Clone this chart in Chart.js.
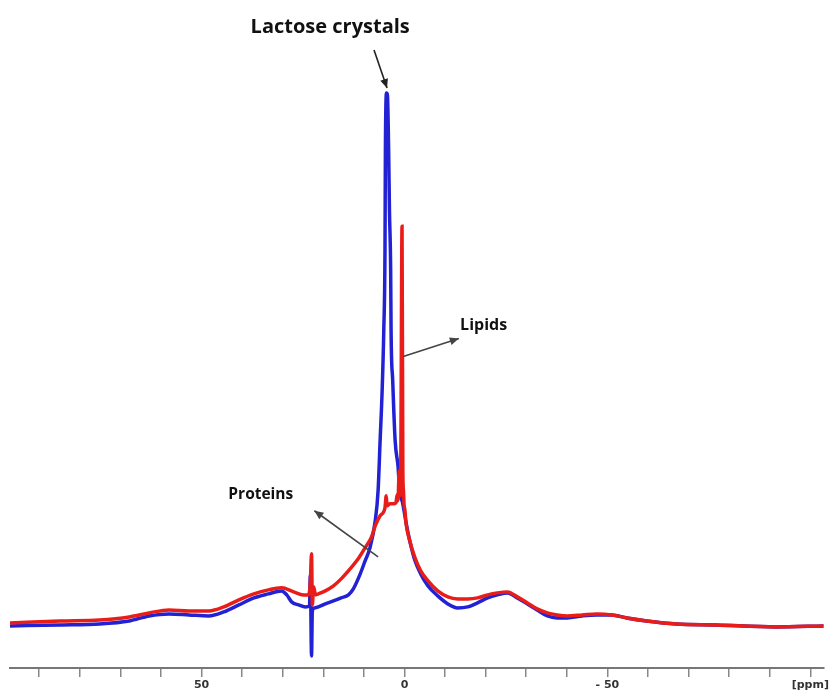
<!DOCTYPE html>
<html>
<head>
<meta charset="utf-8">
<script src="https://cdn.jsdelivr.net/npm/chart.js@4.4.1/dist/chart.umd.min.js"></script>
<style>
  html, body { margin: 0; padding: 0; background: #fff; }
  #wrap { width: 832px; height: 691px; position: relative; }
</style>
</head>
<body>
<div id="wrap"><canvas id="espectro"></canvas></div>
<script>
// Espectro RMN (ppm x intensidade, unidades arbitrárias)

const redPpm = [97.2, 84.9, 75.1, 67.8, 62.9, 58.0, 53.1, 48.2, 44.5, 40.8, 37.1, 33.5, 30.3, 27.3, 24.9, 23.7, 23.2, 22.9, 22.7, 22.4, 21.9, 21.2, 19.5, 17.5, 15.6, 13.4, 11.4, 9.4, 8.2, 7.2, 6.0, 4.8, 4.5, 4.3, 3.6, 2.8, 2.1, 1.8, 1.6, 1.3, 1.1, 0.9, 0.6, 0.4, 0.25, 0.1, -0.1, -0.4, -1.3, -2.6, -4.0, -5.8, -8.2, -10.7, -13.1, -15.6, -18.0, -20.5, -22.9, -25.4, -27.8, -30.3, -32.7, -35.2, -37.6, -40.1, -43.8, -47.4, -51.1, -54.8, -59.7, -67.0, -76.8, -91.5, -103.3];
const redInt = [45, 47, 48, 51, 55, 58, 57, 57, 61, 68, 74, 78, 80, 76, 73, 73, 85, 114, 63, 81, 73, 74, 77, 82, 89, 99, 109, 122, 130, 142, 152, 160, 172, 162, 164, 164, 165, 173, 167, 197, 172, 207, 441, 197, 177, 163, 158, 144, 127, 110, 97, 87, 77, 71, 69, 69, 70, 73, 75, 76, 71, 65, 59, 55, 53, 52, 53, 54, 53, 50, 47, 44, 43, 41, 42];

const bluePpm = [97.2, 84.9, 75.1, 67.8, 62.9, 58.0, 53.1, 48.2, 44.5, 40.8, 37.1, 33.5, 30.3, 29.0, 27.8, 26.1, 24.4, 23.4, 23.2, 22.9, 22.7, 22.2, 21.2, 19.5, 17.5, 15.6, 13.8, 12.6, 10.9, 9.7, 8.5, 7.2, 6.5, 6.0, 5.5, 5.1, 4.8, 4.7, 4.4, 4.2, 3.9, 3.7, 3.4, 3.3, 2.9, 2.3, 1.6, 1.3, 1.1, 0.9, 0.6, 0.1, -0.4, -1.3, -2.6, -4.0, -5.8, -8.2, -10.7, -13.1, -15.6, -18.0, -20.5, -22.9, -25.4, -27.8, -30.3, -32.7, -35.2, -37.6, -40.1, -43.8, -47.4, -51.1, -54.8, -59.7, -67.0, -76.8, -91.5, -103.3];
const blueInt = [42, 43, 44, 47, 52, 54, 53, 52, 56, 63, 70, 74, 77, 73, 66, 63, 61, 62, 92, 12, 57, 60, 61, 64, 67, 70, 73, 79, 94, 107, 120, 147, 177, 227, 277, 337, 417, 517, 574, 572, 517, 457, 397, 337, 287, 227, 202, 187, 197, 172, 167, 157, 145, 127, 107, 94, 82, 72, 64, 60, 61, 65, 70, 73, 75, 70, 64, 58, 52, 50, 50, 52, 53, 53, 50, 47, 44, 43, 41, 42];

// marcas do eixo
const tickValues = [90, 80, 70, 60, 50, 40, 30, 20, 10, 0, -10, -20, -30, -40, -50, -60, -70, -80, -90, -100];
const tickLabels = { '50': '50', '0': '0', '-50': '- 50', '-100': '[ppm]' };

// anotações: texto, tamanho da fonte, posição do texto, seta (de -> para), em ppm / intensidade
const notaTextos = ['Lactose crystals', 'Lipids', 'Proteins'];
const notaFonte = [20, 16, 15.5];
const notaTexto = [[18.3, 640], [-19.5, 342], [35.4, 173]];
const notaSetaDe = [[7.5, 617], [0.3, 311], [6.5, 111]];
const notaSetaPara = [[4.3, 579], [-13.4, 329], [22.2, 157]];

const toPts = (xs, ys) => xs.map((x, i) => ({ x, y: ys[i] }));

const anotacoes = {
  id: 'anotacoes',
  afterDatasetsDraw(chart) {
    const { ctx, scales: { x, y } } = chart;
    ctx.save();
    notaTextos.forEach((txt, i) => {
      const x1 = x.getPixelForValue(notaSetaDe[i][0]);
      const y1 = y.getPixelForValue(notaSetaDe[i][1]);
      const x2 = x.getPixelForValue(notaSetaPara[i][0]);
      const y2 = y.getPixelForValue(notaSetaPara[i][1]);
      ctx.strokeStyle = i === 0 ? '#222' : '#444';
      ctx.fillStyle = ctx.strokeStyle;
      ctx.lineWidth = 1.6;
      ctx.beginPath();
      ctx.moveTo(x1, y1);
      ctx.lineTo(x2, y2);
      ctx.stroke();
      const ang = Math.atan2(y2 - y1, x2 - x1);
      const len = 9, w = 4;
      ctx.beginPath();
      ctx.moveTo(x2, y2);
      ctx.lineTo(x2 - len * Math.cos(ang) + w * Math.sin(ang), y2 - len * Math.sin(ang) - w * Math.cos(ang));
      ctx.lineTo(x2 - len * Math.cos(ang) - w * Math.sin(ang), y2 - len * Math.sin(ang) + w * Math.cos(ang));
      ctx.closePath();
      ctx.fill();

      ctx.fillStyle = '#111';
      ctx.font = `bold ${notaFonte[i]}px "Open Sans", sans-serif`;
      ctx.textAlign = 'center';
      ctx.textBaseline = 'middle';
      ctx.fillText(txt, x.getPixelForValue(notaTexto[i][0]), y.getPixelForValue(notaTexto[i][1]));
    });
    ctx.restore();
  }
};

new Chart(document.querySelector('#espectro'), {
  type: 'line',
  data: {
    datasets: [
      {
        label: 'Vermelho',
        data: toPts(redPpm, redInt),
        borderColor: 'rgb(232, 28, 24)',
        borderWidth: 3.5,
        pointRadius: 0,
        cubicInterpolationMode: 'monotone'
      },
      {
        label: 'Azul',
        data: toPts(bluePpm, blueInt),
        borderColor: 'rgb(34, 34, 212)',
        borderWidth: 3.5,
        pointRadius: 0,
        cubicInterpolationMode: 'monotone'
      }
    ]
  },
  options: {
    responsive: true,
    maintainAspectRatio: false,
    animation: false,
    layout: { padding: { top: 47, left: 10, right: 4, bottom: -3 } },
    plugins: { legend: { display: false }, tooltip: { enabled: false } },
    scales: {
      x: {
        type: 'linear',
        reverse: true,
        min: -103.3,
        max: 97.2,
        border: { display: true, color: '#777', width: 2 },
        grid: { drawOnChartArea: false, tickLength: 9, color: '#888', lineWidth: 1.5 },
        afterBuildTicks: (scale) => { scale.ticks = tickValues.map(v => ({ value: v })); },
        ticks: {
          autoSkip: false,
          maxRotation: 0,
          padding: 3,
          color: '#333',
          font: { family: 'Verdana, "DejaVu Sans", sans-serif', size: 11, weight: 'bold', lineHeight: 1 },
          callback: (v) => tickLabels[String(v)] || ''
        }
      },
      y: { display: false, min: 0, max: 620 }
    }
  },
  plugins: [anotacoes]
});
</script>
</body>
</html>
